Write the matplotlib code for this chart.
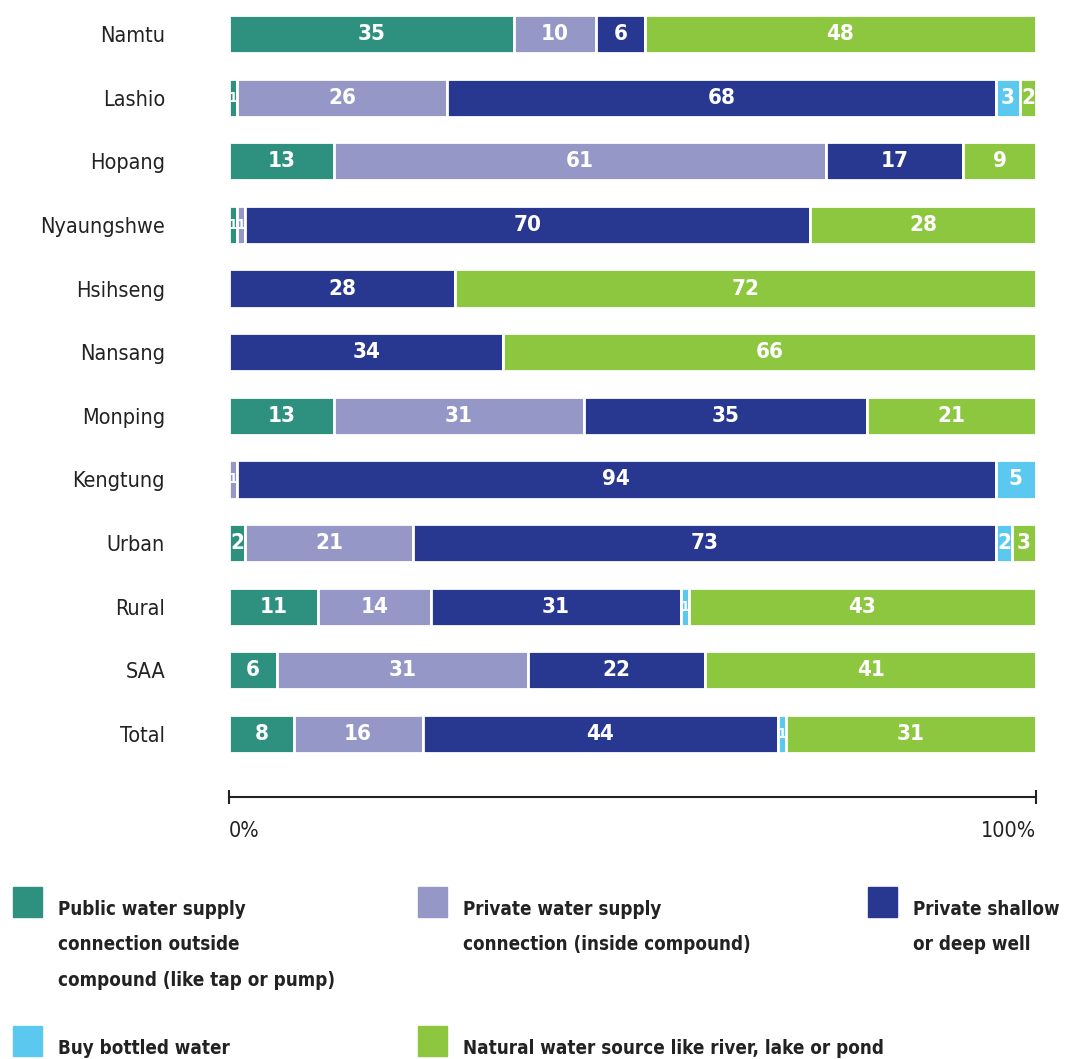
import numpy as np
import matplotlib.pyplot as plt
from matplotlib.patches import Rectangle

# категорії та частки (%)
places = ["Namtu", "Lashio", "Hopang", "Nyaungshwe", "Hsihseng", "Nansang",
          "Monping", "Kengtung", "Urban", "Rural", "SAA", "Total"]
public_outside = [35, 1, 13, 1, 0, 0, 13, 0, 2, 11, 6, 8]
private_inside = [10, 26, 61, 1, 0, 0, 31, 1, 21, 14, 31, 16]
private_well = [6, 68, 17, 70, 28, 34, 35, 94, 73, 31, 22, 44]
bottled = [0, 3, 0, 0, 0, 0, 0, 5, 2, 1, 0, 1]
natural = [48, 2, 9, 28, 72, 66, 21, 0, 3, 43, 41, 31]

series = [public_outside, private_inside, private_well, bottled, natural]
colors = ["#2e9180", "#9597c6", "#283891", "#5bc9ef", "#8dc63f"]
legend_labels = [
    "Public water supply\nconnection outside\ncompound (like tap or pump)",
    "Private water supply\nconnection (inside compound)",
    "Private shallow\nor deep well",
    "Buy bottled water",
    "Natural water source like river, lake or pond",
]

plt.rcParams["font.family"] = ["DejaVu Sans"]
plt.rcParams["font.stretch"] = "condensed"

W, H = 1074, 1059
fig = plt.figure(figsize=(W / 100, H / 100), dpi=100)


def px_box(x0, y0, x1, y1):
    return [x0 / W, 1 - y1 / H, (x1 - x0) / W, (y1 - y0) / H]


ax = fig.add_axes(px_box(229, 0, 1036, 797))

data = np.array(series, dtype=float)
totals = data.sum(axis=0)
shares = data / totals * 100
y = np.arange(len(places))
left = np.zeros(len(places))
for vals, shr, col in zip(series, shares, colors):
    ax.barh(y, shr, left=left, height=0.6, color=col, edgecolor="white", linewidth=2)
    for i, (v, s) in enumerate(zip(vals, shr)):
        if v > 0:
            ax.text(left[i] + s / 2, y[i], str(v), ha="center", va="center",
                    color="white", fontsize=16 if v > 1 else 10, fontweight="bold")
    left += shr

row_px = 63.64
ax.set_ylim((797 - 34) / row_px, -34 / row_px)
ax.set_xlim(0, 100)
ax.set_yticks(y)
ax.set_yticklabels(places, fontsize=15.5, color="#222222")
ax.tick_params(axis="y", length=0, pad=46)
ax.set_xticks([0, 100])
ax.set_xticklabels([])
ax.tick_params(axis="x", direction="inout", length=10, width=1.5, color="#222222")
for s in ["top", "right", "left"]:
    ax.spines[s].set_visible(False)
ax.spines["bottom"].set_linewidth(1.5)
ax.spines["bottom"].set_color("#222222")

fig.text(229 / W, 1 - 831 / H, "0%", ha="left", va="center", fontsize=15.5, color="#222222")
fig.text(1036 / W, 1 - 831 / H, "100%", ha="right", va="center", fontsize=15.5, color="#222222")

# легенда
legend_pos = [(13, 887), (418, 887), (868, 887), (13, 1026), (418, 1026)]
line_px = 35.5
for (lx, ly), col, lab in zip(legend_pos, colors, legend_labels):
    fig.patches.append(Rectangle((lx / W, 1 - (ly + 30) / H), 29 / W, 30 / H,
                                 transform=fig.transFigure, color=col))
    # baseline останнього рядка
    n_extra = lab.count("\n")
    base_y = ly + 28 + n_extra * line_px
    fig.text((lx + 45) / W, 1 - base_y / H, lab, ha="left", va="baseline",
             fontsize=13.5, fontweight="bold", color="#222222", linespacing=2.1)

fig.savefig("out.png", dpi=100)
